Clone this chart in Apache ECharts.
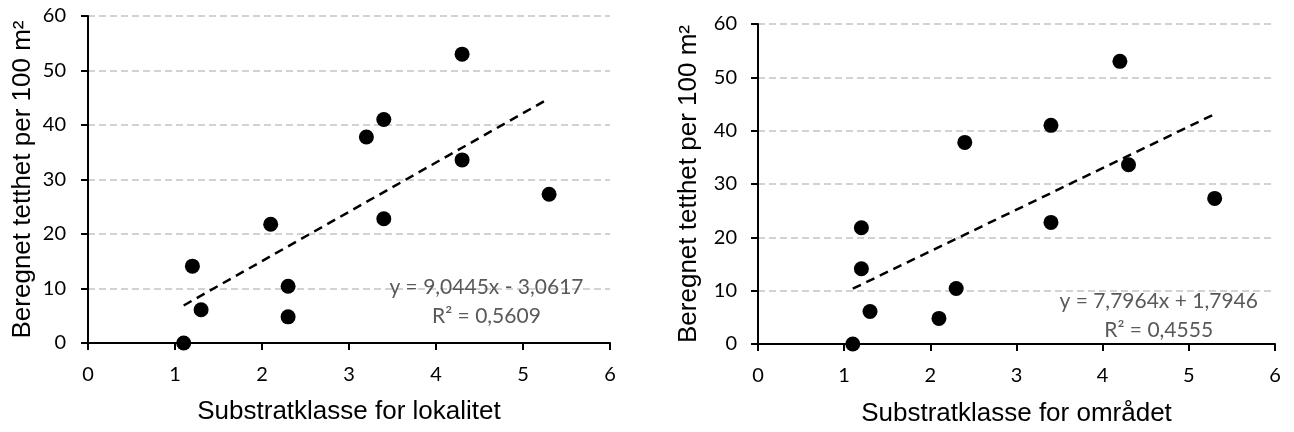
<!DOCTYPE html>
<html>
<head>
<meta charset="utf-8">
<script src="https://cdn.jsdelivr.net/npm/echarts@6/dist/echarts.min.js"></script>
<style>
  html, body { margin: 0; padding: 0; background: #fff; }
  #chart-container { width: 1294px; height: 432px; }
</style>
</head>
<body>
<div id="chart-container"></div>
<script>
// density per 100 m2 (same sites in both panels)
const density = [0, 14.1, 6.1, 21.8, 10.4, 4.8, 37.8, 41.0, 22.8, 53.0, 33.6, 27.3];
// substrate class, local site
const substrateLocal = [1.1, 1.2, 1.3, 2.1, 2.3, 2.3, 3.2, 3.4, 3.4, 4.3, 4.3, 5.3];
// substrate class for the area (same order as density)
const substrateArea = [1.1, 1.2, 1.3, 1.2, 2.3, 2.1, 2.4, 3.4, 3.4, 4.2, 4.3, 5.3];

// trend lines as printed on the chart
const trendLocal = { slope: 9.0445, intercept: -3.0617, eq: 'y = 9,0445x - 3,0617', r2: 'R² = 0,5609' };
const trendArea = { slope: 7.7964, intercept: 1.7946, eq: 'y = 7,7964x + 1,7946', r2: 'R² = 0,4555' };

const xTitles = ['Substratklasse for lokalitet', 'Substratklasse for området'];
const yTitle = 'Beregnet tetthet per 100 m²';

const pairs = (xs, ys) => xs.map((x, i) => [x, ys[i]]);
const trendPoints = (xs, t) => {
  const lo = Math.min(...xs), hi = Math.max(...xs);
  return [[lo, t.slope * lo + t.intercept], [hi, t.slope * hi + t.intercept]];
};

const tickFont = { fontFamily: 'Lato', fontSize: 20, color: '#000' };
const titleFont = { fontFamily: 'Liberation Sans', fontSize: 26, color: '#000' };

const makeX = (gridIndex, name, margin, gap) => ({
  type: 'value', gridIndex, min: 0, max: 6, interval: 1,
  name, nameLocation: 'middle', nameGap: gap, nameTextStyle: titleFont,
  axisLine: { show: true, onZero: false, lineStyle: { color: '#000', width: 2 } },
  axisTick: { show: true, length: 7, lineStyle: { color: '#000', width: 2 } },
  axisLabel: Object.assign({ margin }, tickFont),
  splitLine: { show: false }
});
const makeY = (gridIndex, margin, gap) => ({
  type: 'value', gridIndex, min: 0, max: 60, interval: 10,
  name: yTitle, nameLocation: 'middle', nameGap: gap, nameTextStyle: titleFont,
  axisLine: { show: true, lineStyle: { color: '#000', width: 2 } },
  axisTick: { show: true, length: 7, lineStyle: { color: '#000', width: 2 } },
  axisLabel: Object.assign({ margin }, tickFont),
  splitLine: { show: true, lineStyle: { color: '#c4c4c4', width: 1.5, type: [7, 4] } }
});

const scatter = (i, data) => ({
  type: 'scatter', xAxisIndex: i, yAxisIndex: i, data,
  symbol: 'circle', symbolSize: 15, itemStyle: { color: '#000', opacity: 1 }, z: 3
});
const trend = (i, data) => ({
  type: 'line', xAxisIndex: i, yAxisIndex: i, data, symbol: 'none',
  lineStyle: { color: '#000', width: 2.5, type: [9, 6] }, z: 2, silent: true
});

const start = () => {
  const chartDom = document.getElementById('chart-container');
  const myChart = echarts.init(chartDom, null, { renderer: 'canvas' });
  const option = {
    animation: false,
    backgroundColor: '#fff',
    grid: [
      { left: 88, top: 16, width: 522, height: 327 },
      { left: 758, top: 24, width: 517, height: 321 }
    ],
    xAxis: [makeX(0, xTitles[0], 22, 56), makeX(1, xTitles[1], 22, 57)],
    yAxis: [makeY(0, 22, 52), makeY(1, 21, 56)],
    series: [
      trend(0, trendPoints(substrateLocal, trendLocal)),
      scatter(0, pairs(substrateLocal, density)),
      trend(1, trendPoints(substrateArea, trendArea)),
      scatter(1, pairs(substrateArea, density))
    ]
  };
  myChart.setOption(option);
  // equation labels next to the trend lines, placed through the axes' scale
  const put = (gi, xv, yv, dy, text) => {
    const p = myChart.convertToPixel({ gridIndex: gi }, [xv, yv]);
    return {
      type: 'text', x: p[0], y: p[1] + dy, z: 10,
      style: { text, fill: '#595959', font: '21px Lato', align: 'center', verticalAlign: 'middle' }
    };
  };
  myChart.setOption({
    graphic: [
      put(0, 4.58, 10.3, 0, trendLocal.eq),
      put(0, 4.58, 10.3, 29, trendLocal.r2),
      put(1, 4.65, 8, 0, trendArea.eq),
      put(1, 4.65, 8, 29, trendArea.r2)
    ]
  });
};

start();
</script>
</body>
</html>
